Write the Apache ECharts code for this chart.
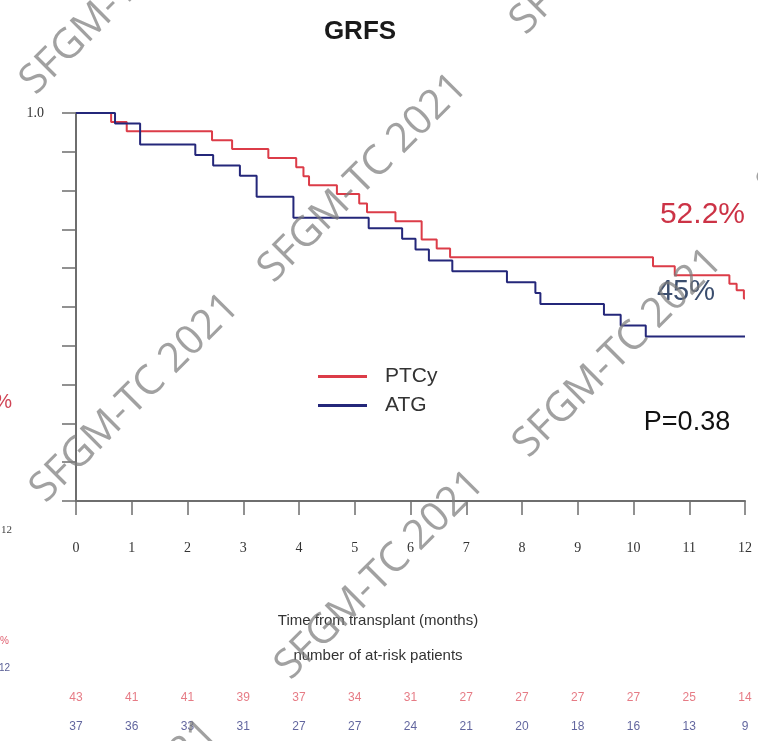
<!DOCTYPE html>
<html><head><meta charset="utf-8">
<script src="https://cdn.jsdelivr.net/npm/echarts@6/dist/echarts.min.js"></script>
<style>html,body{margin:0;padding:0;background:#fff}#c{width:758px;height:741px}</style>
</head><body><div id="c"></div>
<script>
// ---- data ----
const months = [0,1,2,3,4,5,6,7,8,9,10,11,12];
const ptcyTimes = [0, 0.63, 0.91, 2.44, 2.80, 3.45, 3.95, 4.08, 4.18, 4.68, 5.08, 5.22, 5.73, 6.20, 6.47, 6.71, 10.35, 10.74, 11.72, 11.85, 11.98, 12.0];
const ptcySurv  = [1.0, 0.977, 0.953, 0.930, 0.907, 0.884, 0.860, 0.837, 0.814, 0.791, 0.767, 0.744, 0.721, 0.674, 0.651, 0.628, 0.605, 0.582, 0.560, 0.543, 0.522, 0.522];
const atgTimes  = [0, 0.70, 1.15, 2.14, 2.46, 2.94, 3.24, 3.90, 5.25, 5.85, 6.09, 6.33, 6.75, 7.73, 8.24, 8.33, 9.47, 9.77, 10.22, 12.0];
const atgSurv   = [1.0, 0.973, 0.919, 0.892, 0.865, 0.838, 0.784, 0.730, 0.703, 0.676, 0.648, 0.620, 0.592, 0.564, 0.536, 0.508, 0.480, 0.452, 0.424, 0.424];
const ptcyAtRisk = [43,41,41,39,37,34,31,27,27,27,27,25,14];
const atgAtRisk  = [37,36,33,31,27,27,24,21,20,18,16,13,9];
const groups = ['PTCy','ATG'];
const riskRows = ['ATG','PTCy'];

const RED = '#dc3c48', BLUE = '#24277a', AXIS = '#6e6e6e';
const zip = (a,b) => a.map((t,i)=>[t,b[i]]);

const wmText = 'SFGM-TC 2021';
const wmCenters = [[125,-10],[363,178],[135,398],[618,353],[380,575],[615,-70],[113,824],[862,93]];

const chart = echarts.init(document.getElementById('c'), null, {renderer:'canvas'});
chart.setOption({
  animation: false,
  backgroundColor: '#fff',
  title: {
    text: 'GRFS', left: 355, top: 14, textAlign: 'center',
    textStyle: {fontFamily: 'Liberation Sans', fontWeight: 'bold', fontSize: 26, color: '#1a1a1a'}
  },
  legend: {
    data: groups, orient: 'vertical', left: 313, top: 361, itemGap: 8,
    itemWidth: 49, itemHeight: 3, icon: 'rect',
    textStyle: {fontFamily: 'Liberation Sans', fontSize: 21, color: '#333', padding: [0,0,0,13]}
  },
  grid: [
    {left: 76, right: 13, top: 113, height: 388},
    {left: 76, right: 13, top: 683, height: 62}
  ],
  xAxis: [
    {gridIndex: 0, type: 'value', min: 0, max: 12, interval: 1,
     axisLine: {show: true, lineStyle: {color: AXIS, width: 2}},
     axisTick: {show: true, length: 14, lineStyle: {color: AXIS, width: 1.5}},
     splitLine: {show: false},
     axisLabel: {margin: 40, fontFamily: 'Liberation Serif', fontSize: 14, color: '#333'}},
    {gridIndex: 1, type: 'value', min: 0, max: 12, show: false}
  ],
  yAxis: [
    {gridIndex: 0, type: 'value', min: 0, max: 1, interval: 0.1,
     axisLine: {show: true, lineStyle: {color: AXIS, width: 2}},
     axisTick: {show: true, length: 14, lineStyle: {color: AXIS, width: 1.5}},
     splitLine: {show: false},
     axisLabel: {margin: 32, fontFamily: 'Liberation Serif', fontSize: 14, color: '#333',
                 formatter: v => (Math.abs(v-1) < 1e-9 ? '1.0' : '')}},
    {gridIndex: 1, type: 'category', data: riskRows, show: false}
  ],
  series: [
    {name: 'PTCy', type: 'line', step: 'end', xAxisIndex: 0, yAxisIndex: 0,
     data: zip(ptcyTimes, ptcySurv), showSymbol: false, symbol: 'none',
     lineStyle: {color: RED, width: 2}, itemStyle: {color: RED}},
    {name: 'ATG', type: 'line', step: 'end', xAxisIndex: 0, yAxisIndex: 0,
     data: zip(atgTimes, atgSurv), showSymbol: false, symbol: 'none',
     lineStyle: {color: BLUE, width: 2}, itemStyle: {color: BLUE}},
    {type: 'scatter', xAxisIndex: 1, yAxisIndex: 1, symbolSize: 1,
     itemStyle: {color: 'rgba(0,0,0,0)'},
     data: months.map((m,i)=>[m,'PTCy',ptcyAtRisk[i]]),
     label: {show: true, position: 'inside', formatter: p => p.value[2],
             fontFamily: 'Liberation Sans', fontSize: 12, color: '#e05a66'}},
    {type: 'scatter', xAxisIndex: 1, yAxisIndex: 1, symbolSize: 1,
     itemStyle: {color: 'rgba(0,0,0,0)'},
     data: months.map((m,i)=>[m,'ATG',atgAtRisk[i]]),
     label: {show: true, position: 'inside', formatter: p => p.value[2],
             fontFamily: 'Liberation Sans', fontSize: 12, color: '#3a3f86'}}
  ],
  graphic: [
    {type: 'text', x: 378, y: 621, style: {text: 'Time from transplant (months)', align: 'center', verticalAlign: 'middle',
      font: '15px "Liberation Sans"', fill: '#333'}},
    {type: 'text', x: 378, y: 656, style: {text: 'number of at-risk patients', align: 'center', verticalAlign: 'middle',
      font: '15px "Liberation Sans"', fill: '#333'}},
    {type: 'text', x: 745, y: 215, style: {text: '52.2%', align: 'right', verticalAlign: 'middle',
      font: '30px "Liberation Sans"', fill: '#cc3346'}},
    {type: 'text', x: 686, y: 292, style: {text: '45%', align: 'center', verticalAlign: 'middle',
      font: '29px "Liberation Sans"', fill: '#3a4d6e'}},
    {type: 'text', x: 687, y: 423, style: {text: 'P=0.38', align: 'center', verticalAlign: 'middle',
      font: '27px "Liberation Sans"', fill: '#111'}},
    {type: 'text', x: 12, y: 402, style: {text: '2%', align: 'right', verticalAlign: 'middle',
      font: '20px "Liberation Sans"', fill: '#d04455'}},
    {type: 'text', x: 12, y: 530, style: {text: '12', align: 'right', verticalAlign: 'middle',
      font: '11px "Liberation Serif"', fill: '#444'}},
    {type: 'text', x: 9, y: 641, style: {text: '%', align: 'right', verticalAlign: 'middle',
      font: '10px "Liberation Sans"', fill: '#e06070'}},
    {type: 'text', x: 10, y: 668, style: {text: '12', align: 'right', verticalAlign: 'middle',
      font: '10px "Liberation Sans"', fill: '#5a5f96'}}
  ].concat(wmCenters.map(c => ({
    type: 'text', x: c[0], y: c[1], rotation: Math.PI/4, z: 100, silent: true,
    style: {text: wmText, align: 'center', verticalAlign: 'middle',
            font: '400 41px "Open Sans", "Liberation Sans"', fill: 'rgba(125,125,125,0.72)'}
  })))
});
</script>
</body></html>
